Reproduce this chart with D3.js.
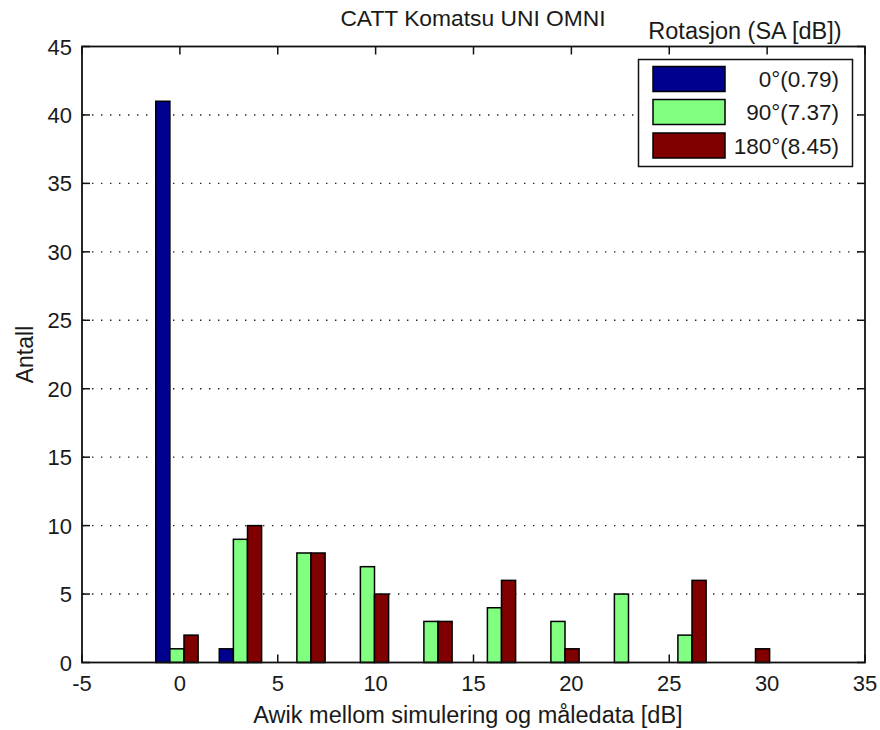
<!DOCTYPE html>
<html>
<head>
<meta charset="utf-8">
<script src="https://cdn.jsdelivr.net/npm/d3@7"></script>
<style>
  html, body { margin: 0; padding: 0; background: #ffffff; }
  svg { display: block; }
  text { font-family: "Liberation Sans", Arial, Helvetica, sans-serif; fill: #1a1a1a; }
</style>
</head>
<body>
<svg id="chart" width="880" height="730"></svg>
<script>
// Histogram bin centres (dB deviation between simulation and measurement)
const binCenters = [-0.15, 3.094, 6.338, 9.582, 12.826, 16.07, 19.314, 22.558, 25.802, 29.046];

// Counts per rotation
const rot0   = [41, 1, 0, 0, 0, 0, 0, 0, 0, 0];
const rot90  = [1, 9, 8, 7, 3, 4, 3, 5, 2, 0];
const rot180 = [2, 10, 8, 5, 3, 6, 1, 0, 6, 1];

const seriesNames  = ["0°(0.79)", "90°(7.37)", "180°(8.45)"];
const seriesColors = ["#00008f", "#80ff80", "#800000"];

const xTicks = [-5, 0, 5, 10, 15, 20, 25, 30, 35];
const yTicks = [0, 5, 10, 15, 20, 25, 30, 35, 40, 45];

const titleText  = "CATT Komatsu UNI OMNI";
const xLabelText = "Awik mellom simulering og måledata [dB]";
const yLabelText = "Antall";
const legendTitleText = "Rotasjon (SA [dB])";

const series = [rot0, rot90, rot180];

(function draw() {
  const svg = d3.select("#chart");
  const pL = 82, pR = 865, pT = 46.5, pB = 662.5;

  const x = d3.scaleLinear().domain([-5, 35]).range([pL, pR]);
  const y = d3.scaleLinear().domain([0, 45]).range([pB, pT]);

  // dotted horizontal grid
  svg.append("g").selectAll("line")
    .data(yTicks.filter(t => t > 0 && t < 45))
    .join("line")
    .attr("x1", pL + 1).attr("x2", pR - 1)
    .attr("y1", d => y(d)).attr("y2", d => y(d))
    .attr("stroke", "#222")
    .attr("stroke-width", 1.4)
    .attr("stroke-dasharray", "1.4,7.6");

  // inward ticks on all four sides
  const tickLen = 8;
  const ticks = svg.append("g").attr("stroke", "#111").attr("stroke-width", 1.5);
  xTicks.forEach(t => {
    ticks.append("line").attr("x1", x(t)).attr("x2", x(t)).attr("y1", pB).attr("y2", pB - tickLen);
    ticks.append("line").attr("x1", x(t)).attr("x2", x(t)).attr("y1", pT).attr("y2", pT + tickLen);
  });
  yTicks.forEach(t => {
    ticks.append("line").attr("x1", pL).attr("x2", pL + tickLen).attr("y1", y(t)).attr("y2", y(t));
    ticks.append("line").attr("x1", pR).attr("x2", pR - tickLen).attr("y1", y(t)).attr("y2", y(t));
  });

  // grouped bars
  const binWidth = binCenters[1] - binCenters[0];
  const barW = binWidth * 2 / 9;
  const bars = [];
  series.forEach((vals, s) => {
    vals.forEach((v, i) => {
      if (v > 0) bars.push({ s, c: binCenters[i] + (s - 1) * barW, v });
    });
  });
  svg.append("g").selectAll("rect")
    .data(bars)
    .join("rect")
    .attr("x", d => x(d.c - barW / 2))
    .attr("width", d => x(d.c + barW / 2) - x(d.c - barW / 2))
    .attr("y", d => y(d.v))
    .attr("height", d => y(0) - y(d.v))
    .attr("fill", d => seriesColors[d.s])
    .attr("stroke", "#000")
    .attr("stroke-width", 1.5);

  // axes box
  svg.append("rect")
    .attr("x", pL).attr("y", pT)
    .attr("width", pR - pL).attr("height", pB - pT)
    .attr("fill", "none").attr("stroke", "#111").attr("stroke-width", 1.8);

  // tick labels
  svg.append("g").selectAll("text")
    .data(xTicks)
    .join("text")
    .attr("x", d => x(d)).attr("y", 691)
    .attr("text-anchor", "middle")
    .attr("font-size", 22)
    .text(d => d);

  svg.append("g").selectAll("text")
    .data(yTicks)
    .join("text")
    .attr("x", 72).attr("y", d => y(d) + 8)
    .attr("text-anchor", "end")
    .attr("font-size", 22)
    .text(d => d);

  // titles
  svg.append("text")
    .attr("x", 473).attr("y", 26)
    .attr("text-anchor", "middle").attr("font-size", 22.8)
    .text(titleText);

  svg.append("text")
    .attr("x", 468).attr("y", 723)
    .attr("text-anchor", "middle").attr("font-size", 23.5)
    .text(xLabelText);

  svg.append("text")
    .attr("transform", `translate(33, ${(pT + pB) / 2}) rotate(-90)`)
    .attr("text-anchor", "middle").attr("font-size", 23)
    .text(yLabelText);

  // legend
  const lg = { x: 638.5, y: 59.5, w: 214, h: 107 };
  svg.append("text")
    .attr("x", 745).attr("y", 39)
    .attr("text-anchor", "middle").attr("font-size", 23.5)
    .text(legendTitleText);

  const legend = svg.append("g");
  legend.append("rect")
    .attr("x", lg.x).attr("y", lg.y).attr("width", lg.w).attr("height", lg.h)
    .attr("fill", "#fff").attr("stroke", "#111").attr("stroke-width", 1.5);

  const rowY = [79, 112, 145.5];
  const items = legend.selectAll("g.item")
    .data(seriesNames)
    .join("g").attr("class", "item");
  items.append("rect")
    .attr("x", 653).attr("y", (d, i) => rowY[i] - 12.5)
    .attr("width", 72).attr("height", 25)
    .attr("fill", (d, i) => seriesColors[i])
    .attr("stroke", "#000").attr("stroke-width", 1.5);
  items.append("text")
    .attr("x", 839).attr("y", (d, i) => rowY[i] + 8)
    .attr("text-anchor", "end").attr("font-size", 22.5)
    .text(d => d);
})();
</script>
</body>
</html>
